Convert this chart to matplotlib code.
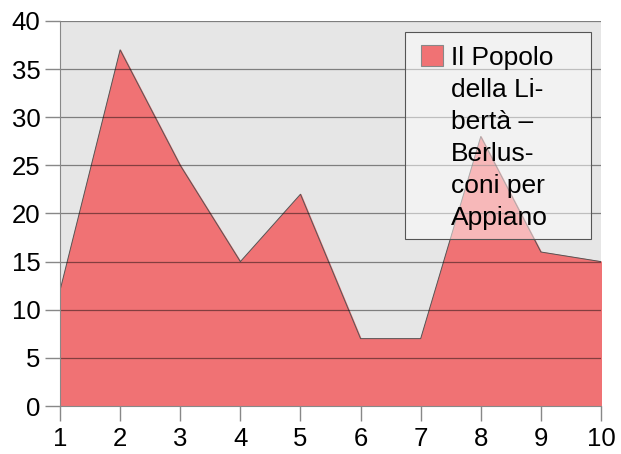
import matplotlib
matplotlib.use("Agg")
import matplotlib.pyplot as plt
from matplotlib.patches import Rectangle

x = [1, 2, 3, 4, 5, 6, 7, 8, 9, 10]
values = [12, 37, 25, 15, 22, 7, 7, 28, 16, 15]
legend_lines = ["Il Popolo", "della Li-", "bertà –", "Berlus-", "coni per", "Appiano"]
y_ticks = [0, 5, 10, 15, 20, 25, 30, 35, 40]

W, H = 621, 454
fill_color = "#f07274"

plt.rcParams["font.family"] = ["Liberation Sans", "DejaVu Sans"]

fig = plt.figure(figsize=(W / 100, H / 100), dpi=100)
ax = fig.add_axes([60 / W, 48 / H, 541 / W, 385 / H])
ax.set_facecolor("#e6e6e6")

ax.fill_between(x, values, 0, color=fill_color, zorder=2)
ax.plot(x, values, color="#555555", lw=0.7, zorder=3)

ax.set_xlim(1, 10)
ax.set_ylim(0, 40)
ax.set_xticks(x)
ax.set_yticks(y_ticks)
for t in y_ticks[1:]:
    ax.axhline(t, color="black", alpha=0.45, lw=0.9, zorder=4)

for s in ax.spines.values():
    s.set_visible(False)
for side in ("left", "bottom"):
    ax.spines[side].set_visible(True)
    ax.spines[side].set_color("#888888")
    ax.spines[side].set_zorder(5)

ax.tick_params(axis="both", labelsize=18.5, color="#888888", length=11, width=1)
ax.tick_params(axis="x", pad=4)
ax.tick_params(axis="y", pad=3)

# legend box drawn by hand (handle sits next to the first line)
def fx(px):
    return px / W

def fy(py):
    return 1 - py / H

fig.patches.append(Rectangle((fx(405), fy(239)), fx(591) - fx(405), fy(32) - fy(239),
                             transform=fig.transFigure, facecolor=(1, 1, 1, 0.5),
                             edgecolor="#555555", lw=0.8, zorder=6))
fig.patches.append(Rectangle((fx(421), fy(66)), fx(443) - fx(421), fy(45) - fy(66),
                             transform=fig.transFigure, facecolor=fill_color,
                             edgecolor="#888888", lw=0.8, zorder=7))
for i, line in enumerate(legend_lines):
    fig.text(fx(451), fy(65 + 32 * i), line, fontsize=19, va="baseline",
             ha="left", zorder=8)

fig.savefig("out.png", dpi=100)
